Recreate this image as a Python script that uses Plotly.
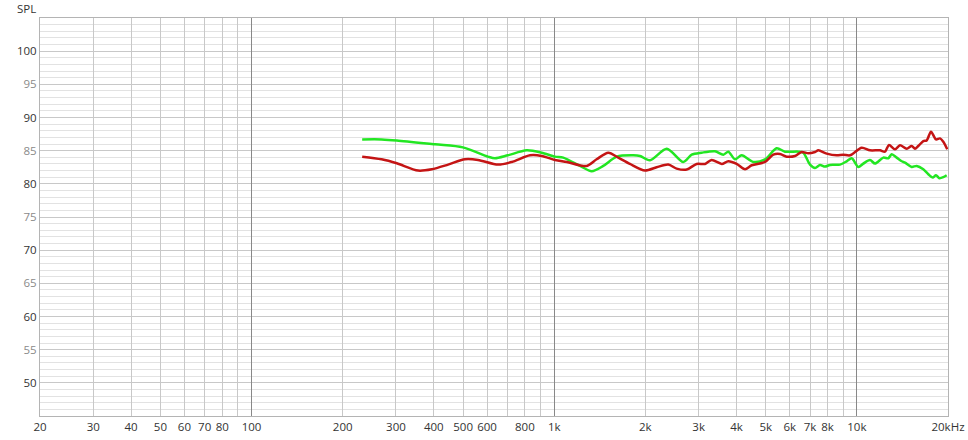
import plotly.graph_objects as go

# ---- data ----
green_freq = [232, 269, 302, 404, 499, 604, 637, 703, 811, 909, 1006, 1071, 1217, 1330, 1452,
              1609, 1825, 1920, 2072, 2354, 2670, 2846, 3070, 3398, 3620, 3760, 3956, 4164,
              4548, 4972, 5432, 5788, 6404, 6652, 7000, 7272, 7554, 7846, 8150, 8796, 9254,
              9612, 10106, 10498, 11048, 11480, 12226, 12700, 13032, 13536, 14062, 14420,
              15172, 15760, 16574, 17216, 17802, 18254, 18718, 19298, 19802]
green_spl = [86.7, 86.7, 86.55, 85.95, 85.5, 84.1, 83.85, 84.3, 85.05, 84.7, 84.1, 83.95, 82.7,
             81.9, 82.7, 84.1, 84.3, 84.2, 83.55, 85.3, 83.3, 84.4, 84.7, 84.9, 84.4, 84.85,
             83.7, 84.3, 83.3, 83.7, 85.35, 84.85, 84.85, 84.7, 82.9, 82.4, 82.85, 82.6, 82.85,
             82.9, 83.4, 83.85, 82.55, 83.05, 83.6, 83.05, 83.95, 83.85, 84.45, 83.95, 83.4,
             83.2, 82.55, 82.7, 82.2, 81.45, 80.95, 81.3, 80.85, 81.0, 81.3]

red_freq = [232, 269, 302, 355, 394, 446, 507, 560, 652, 724, 832, 909, 1006, 1100, 1280, 1381,
            1509, 1628, 1779, 1995, 2180, 2382, 2538, 2740, 2955, 3148, 3312, 3576, 3760, 4008,
            4270, 4492, 4972, 5294, 5572, 5862, 6246, 6572, 6910, 7272, 7458, 7948, 8576, 9016,
            9490, 10370, 11048, 11924, 12384, 12766, 13362, 13882, 14608, 15172, 15558, 15952,
            16574, 17008, 17574, 18254, 18816, 19298, 19890]
red_spl = [84.1, 83.7, 83.1, 82.0, 82.2, 82.9, 83.7, 83.6, 82.9, 83.3, 84.3, 84.2, 83.6, 83.3,
           82.7, 83.7, 84.7, 83.95, 83.0, 82.0, 82.5, 82.9, 82.3, 82.15, 83.0, 83.0, 83.6, 83.0,
           83.4, 83.0, 82.2, 82.8, 83.3, 84.4, 84.5, 84.1, 84.2, 84.8, 84.6, 84.8, 85.05, 84.55,
           84.3, 84.4, 84.3, 85.45, 85.05, 85.05, 84.85, 85.85, 85.2, 85.8, 85.3, 85.7, 85.3,
           85.7, 86.45, 86.55, 87.85, 86.7, 86.85, 86.35, 85.2]

x_tickvals = [20, 30, 40, 50, 60, 70, 80, 90, 100, 200, 300, 400, 500, 600, 700, 800, 900,
              1000, 2000, 3000, 4000, 5000, 6000, 7000, 8000, 9000, 10000, 20000]
x_ticktext = ["20", "30", "40", "50", "60", "70", "80", "", "100", "200", "300", "400", "500",
              "600", "", "800", "", "1k", "2k", "3k", "4k", "5k", "6k", "7k", "8k", "", "10k",
              "20kHz"]
x_decades = [100, 1000, 10000]

y_tickvals = [50, 55, 60, 65, 70, 75, 80, 85, 90, 95, 100]

FONT = "Open Sans"

def ylab(v):
    if v % 10 == 0:
        return '<span style="color:#333333">%d</span>' % v
    return '<span style="color:#8a8a8a">%d</span>' % v

fig = go.Figure()
fig.add_trace(go.Scatter(x=[20, 20000], y=[None, None], xaxis="x2", showlegend=False,
                         hoverinfo="skip"))
fig.add_trace(go.Scatter(x=green_freq, y=green_spl, mode="lines",
                         line=dict(color="#22e622", width=2.5, shape="spline", smoothing=0.8),
                         showlegend=False))
fig.add_trace(go.Scatter(x=red_freq, y=red_spl, mode="lines",
                         line=dict(color="#c41414", width=2.5, shape="spline", smoothing=0.8),
                         showlegend=False))

fig.update_layout(
    width=968, height=440,
    margin=dict(l=40, r=20, t=18, b=24),
    paper_bgcolor="white", plot_bgcolor="white",
    font=dict(family=FONT, size=12, color="#333333"),
    xaxis=dict(type="log", range=[1.30103, 4.30103], tickvals=x_tickvals, ticktext=x_ticktext,
               showgrid=True, gridcolor="#c8c8c8", gridwidth=1, zeroline=False,
               showline=True, linecolor="#b4b4b4", mirror=True, ticks="", automargin=False,
               tickfont=dict(family=FONT, size=11.5, color="#333333")),
    xaxis2=dict(type="log", range=[1.30103, 4.30103], overlaying="x", tickvals=x_decades,
                showticklabels=False, showgrid=True, gridcolor="#888888", gridwidth=1,
                zeroline=False, showline=False, ticks="", automargin=False),
    yaxis=dict(range=[45, 105], tickvals=y_tickvals, ticktext=[ylab(v) for v in y_tickvals],
               showgrid=True, gridcolor="#c8c8c8", zeroline=False, showline=True,
               linecolor="#b4b4b4", mirror=True, ticks="", automargin=False,
               minor=dict(dtick=1, tick0=45, showgrid=True, gridcolor="#e2e2e2"),
               tickfont=dict(family=FONT, size=11.5)),
    annotations=[dict(text="SPL", xref="paper", yref="paper", x=0, y=1.0, xanchor="right",
                      yanchor="bottom", xshift=-2, yshift=0, showarrow=False,
                      font=dict(family=FONT, size=11.5, color="#333333"))],
)

# remove the browser's default 8px body margin so the figure fills the window exactly
fig.write_html("out.html", config={"displayModeBar": False},
               post_script="document.body.style.margin='0px';")
